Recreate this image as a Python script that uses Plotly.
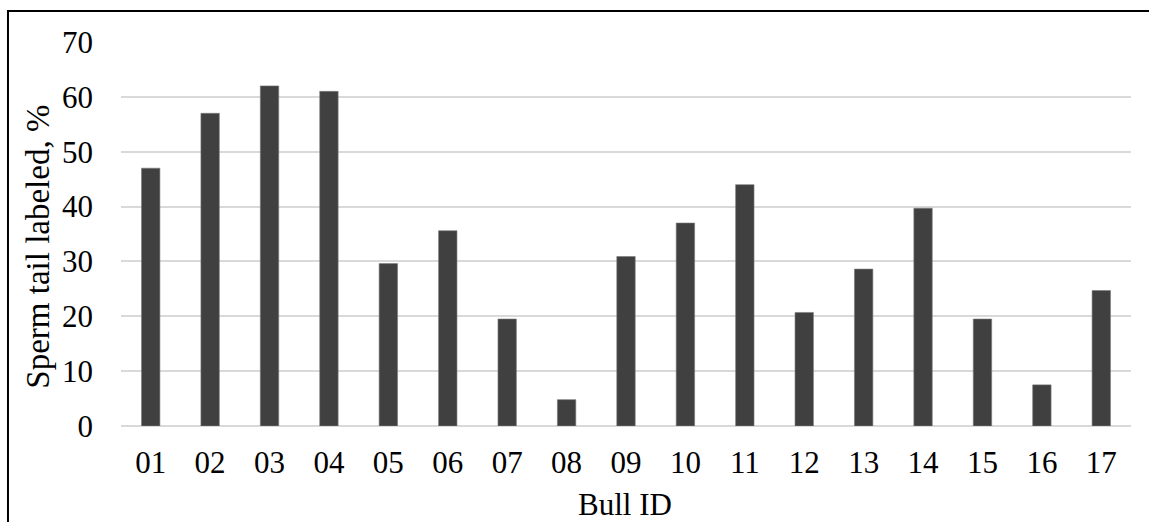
import plotly.graph_objects as go

# Bull identifiers and percentage of sperm with labeled tails
bull_ids = ["01", "02", "03", "04", "05", "06", "07", "08", "09", "10",
            "11", "12", "13", "14", "15", "16", "17"]
tail_labeled_pct = [47.0, 57.0, 62.0, 61.0, 29.6, 35.6, 19.5, 4.8, 30.9, 37.0,
                    44.0, 20.7, 28.6, 39.7, 19.5, 7.5, 24.7]
y_ticks = [0, 10, 20, 30, 40, 50, 60, 70]

FONT = "Liberation Serif, Times New Roman, serif"

fig = go.Figure(
    go.Bar(
        x=bull_ids,
        y=tail_labeled_pct,
        marker=dict(color="#404040", line=dict(color="#7a7a7a", width=0.6)),
        width=0.31,
    )
)

fig.update_layout(
    width=1149,
    height=522,
    margin=dict(l=121, r=18, t=42, b=96),
    paper_bgcolor="white",
    plot_bgcolor="white",
    showlegend=False,
    font=dict(family=FONT, size=31, color="black"),
    xaxis=dict(
        type="category",
        showgrid=False,
        showline=False,
        ticks="",
        ticklabelstandoff=15,
        tickfont=dict(family=FONT, size=31, color="black"),
    ),
    yaxis=dict(
        range=[0, 70],
        tickvals=y_ticks,
        showgrid=True,
        gridcolor="#d9d9d9",
        gridwidth=1.5,
        zeroline=True,
        zerolinecolor="#d9d9d9",
        zerolinewidth=1.5,
        showline=False,
        ticks="",
        ticklabelstandoff=27,
        tickfont=dict(family=FONT, size=31, color="black"),
    ),
    annotations=[
        # axis titles
        dict(
            text="Bull ID", xref="paper", yref="paper",
            x=0.4995, y=-0.205, xanchor="center", yanchor="middle",
            showarrow=False, font=dict(family=FONT, size=31, color="black"),
        ),
        dict(
            text="Sperm tail labeled, %", xref="paper", yref="paper",
            x=-0.0822, y=0.467, xanchor="center", yanchor="middle",
            textangle=-90, showarrow=False,
            font=dict(family=FONT, size=33, color="black"),
        ),
    ],
    shapes=[
        dict(
            type="rect", xref="paper", yref="paper",
            x0=-0.1119, x1=1.2, y0=-0.6, y1=1.0808,
            line=dict(color="black", width=2),
            fillcolor="rgba(0,0,0,0)",
            layer="above",
        )
    ],
)

fig.write_html("out.html")
